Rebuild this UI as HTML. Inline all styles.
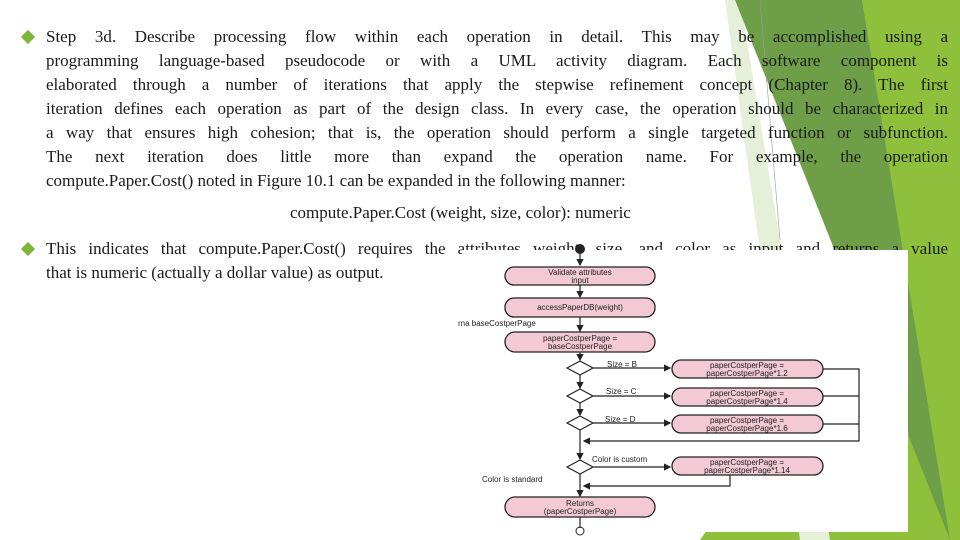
<!DOCTYPE html>
<html><head><meta charset="utf-8"><style>
body{margin:0;width:960px;height:540px;overflow:hidden;background:#fff;position:relative;font-family:"Liberation Serif",serif;color:#1a1a1a}
.g{position:absolute;left:0;top:0}
.t{position:absolute;left:46px;width:902px;font-size:17px;line-height:24px}
.l{text-align:justify;text-align-last:justify;white-space:nowrap;height:24px}
.b{position:absolute;left:23px;width:10px;height:10px;background:#7fb539;transform:rotate(45deg)}
</style></head><body>
<svg class="g" width="960" height="540">
<polygon points="862,0 960,0 960,540 930,540" fill="#8fc03c"/>
<polygon points="960,170 960,540 700,540" fill="#8fc03c"/>
<polygon points="725,0 740,0 830,540 800,540" fill="#e6efd8"/>
<polygon points="735,0 862,0 950,540" fill="#6e9e48"/>
<line x1="760" y1="0" x2="780" y2="240" stroke="#999" stroke-width="0.6"/>
</svg>
<div class="b" style="top:32px"></div>
<div class="t" style="top:25px">
<div class="l">Step 3d. Describe processing flow within each operation in detail. This may be accomplished using a</div>
<div class="l">programming language-based pseudocode or with a UML activity diagram. Each software component is</div>
<div class="l">elaborated through a number of iterations that apply the stepwise refinement concept (Chapter 8). The first</div>
<div class="l">iteration defines each operation as part of the design class. In every case, the operation should be characterized in</div>
<div class="l">a way that ensures high cohesion; that is, the operation should perform a single targeted function or subfunction.</div>
<div class="l">The next iteration does little more than expand the operation name. For example, the operation</div>
<div style="height:24px">compute.Paper.Cost() noted in Figure 10.1 can be expanded in the following manner:</div>
</div>
<div style="position:absolute;left:290px;top:203px;font-size:17px">compute.Paper.Cost (weight, size, color): numeric</div>
<div class="b" style="top:244px"></div>
<div class="t" style="top:237px">
<div class="l">This indicates that compute.Paper.Cost() requires the attributes weight, size, and color as input and returns a value</div>
<div style="height:24px">that is numeric (actually a dollar value) as output.</div>
</div>
<svg class="g" width="960" height="540" style="font-family:'Liberation Sans',sans-serif">
<defs><marker id="a" markerWidth="6" markerHeight="6" refX="5" refY="3" orient="auto"><path d="M0,0L6,3L0,6z" fill="#222"/></marker></defs>
<rect x="462" y="250" width="446" height="282" fill="#fff"/>
<g stroke="#222" stroke-width="1.2" fill="none">
<line x1="580" y1="252" x2="580" y2="265" marker-end="url(#a)"/>
<line x1="580" y1="285" x2="580" y2="297" marker-end="url(#a)"/>
<line x1="580" y1="317" x2="580" y2="331" marker-end="url(#a)"/>
<line x1="580" y1="352" x2="580" y2="360" marker-end="url(#a)"/>
<line x1="580" y1="375" x2="580" y2="388" marker-end="url(#a)"/>
<line x1="580" y1="403" x2="580" y2="415" marker-end="url(#a)"/>
<line x1="580" y1="430" x2="580" y2="459" marker-end="url(#a)"/>
<line x1="580" y1="474" x2="580" y2="496" marker-end="url(#a)"/>
<line x1="580" y1="517" x2="580" y2="528"/>
<line x1="593" y1="368" x2="670" y2="368" marker-end="url(#a)"/>
<line x1="593" y1="396" x2="670" y2="396" marker-end="url(#a)"/>
<line x1="593" y1="423" x2="670" y2="423" marker-end="url(#a)"/>
<line x1="593" y1="467" x2="670" y2="467" marker-end="url(#a)"/>
<polyline points="823,369 859,369 859,441 584,441" marker-end="url(#a)"/>
<line x1="823" y1="396" x2="859" y2="396"/>
<line x1="823" y1="424" x2="859" y2="424"/>
<polyline points="730,475 730,486 584,486" marker-end="url(#a)"/>
</g>
<circle cx="580" cy="249" r="5" fill="#222"/>
<g fill="#f3c9d6" stroke="#222" stroke-width="1.3">
<rect x="505" y="267" width="150" height="18" rx="9"/>
<rect x="505" y="298" width="150" height="19" rx="9"/>
<rect x="505" y="332" width="150" height="20" rx="10"/>
<rect x="672" y="360" width="151" height="18" rx="9"/>
<rect x="672" y="388" width="151" height="18" rx="9"/>
<rect x="672" y="415" width="151" height="18" rx="9"/>
<rect x="672" y="457" width="151" height="18" rx="9"/>
<rect x="505" y="497" width="150" height="20" rx="10"/>
</g>
<g fill="#fff" stroke="#222" stroke-width="1.2">
<polygon points="567,368 580,361 593,368 580,375"/>
<polygon points="567,396 580,389 593,396 580,403"/>
<polygon points="567,423 580,416 593,423 580,430"/>
<polygon points="567,467 580,460 593,467 580,474"/>
</g>
<circle cx="580" cy="531" r="4" fill="none" stroke="#222"/>
<g font-size="8" fill="#222" text-anchor="middle">
<text x="580" y="275">Validate attributes</text><text x="580" y="283">input</text>
<text x="580" y="310">accessPaperDB(weight)</text>
<text x="580" y="341">paperCostperPage =</text><text x="580" y="349">baseCostperPage</text>
<text x="747" y="368">paperCostperPage =</text><text x="747" y="376">paperCostperPage*1.2</text>
<text x="747" y="396">paperCostperPage =</text><text x="747" y="404">paperCostperPage*1.4</text>
<text x="747" y="423">paperCostperPage =</text><text x="747" y="431">paperCostperPage*1.6</text>
<text x="747" y="465">paperCostperPage =</text><text x="747" y="473">paperCostperPage*1.14</text>
<text x="580" y="506">Returns</text><text x="580" y="514">(paperCostperPage)</text>
</g>
<g font-size="8" fill="#222">
<text x="458" y="326">rna baseCostperPage</text>
<text x="607" y="367">Size = B</text>
<text x="606" y="394">Size = C</text>
<text x="605" y="422">Size = D</text>
<text x="592" y="462">Color is custom</text>
<text x="482" y="482">Color is standard</text>
</g>
</svg>
</body></html>
